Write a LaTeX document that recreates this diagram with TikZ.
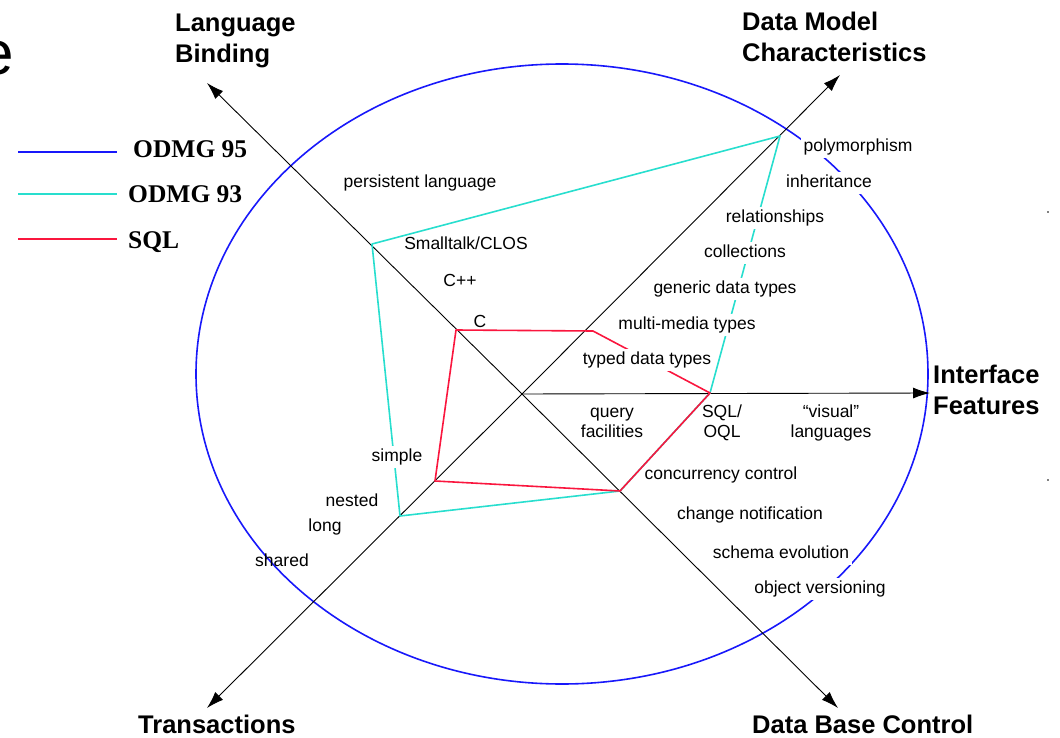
\documentclass[tikz,border=0pt]{standalone}
\usepackage{fontspec}
\setmainfont{Liberation Sans}
\newfontfamily\legendfont{Liberation Serif}
\usetikzlibrary{arrows.meta}

\definecolor{odmgblue}{RGB}{24,24,250}
\definecolor{odmgcyan}{RGB}{40,222,206}
\definecolor{sqlred}{RGB}{250,22,62}

\begin{document}
\begin{tikzpicture}[x=1pt,y=-1pt,
  axis/.style={draw=black, line width=0.9pt, -{Latex[length=17pt,width=11pt]}},
  axislabel/.style={font=\fontsize{25.5}{31}\selectfont\bfseries, inner sep=0pt, align=left},
  item/.style={font=\fontsize{17.5}{20}\selectfont, inner sep=3pt, text height=12.8pt, text depth=3.7pt},
  cover/.style={item, fill=white},
  stack/.style={font=\fontsize{17.5}{20}\selectfont, inner sep=2pt, align=center},
  legendtext/.style={font=\legendfont\bfseries\fontsize{25.5}{30}\selectfont, inner sep=0pt, anchor=base west},
  odmgnf/.style={draw=odmgblue, line width=1.6pt},
  odmgnt/.style={draw=odmgcyan, line width=1.6pt, line join=round},
  sqlline/.style={draw=sqlred, line width=1.6pt, line join=round},
]
\useasboundingbox (0,0) rectangle (1060,738);

% remnant of a large heading letter at the left border
\node[font=\fontsize{62}{62}\selectfont, inner sep=0pt, anchor=base east] (head) at (14.5,75) {e};
\fill (1048,212) circle (0.9pt);
\fill (1048,480) circle (0.9pt);

% ODMG 95 scope
\draw[odmgnf] (562,374) ellipse [x radius=366, y radius=310];

% axes
\coordinate (o) at (522,394);
\coordinate (tLB) at (207,83);
\coordinate (tDM) at (840,75);
\coordinate (tIF) at (930,393);
\coordinate (tDB) at (838,708);
\coordinate (tTR) at (207,708);
\draw[axis] (o) -- (tLB);
\draw[axis] (o) -- (tDM);
\draw[axis] (o) -- (tIF);
\draw[axis] (o) -- (tDB);
\draw[axis] (o) -- (tTR);

% ODMG 93 profile
\coordinate (c1) at (372,244);
\coordinate (c2) at (780,136);
\coordinate (c3) at (710,393);
\coordinate (c4) at (620,491);
\coordinate (c5) at (400,516);
\draw[odmgnt] (c1) -- (c2) -- (c3) -- (c4) -- (c5) -- cycle;

% SQL profile
\coordinate (r1) at (456,330);
\coordinate (r2) at (593,331);
\coordinate (r5) at (435,481);
\draw[sqlline] (r1) -- (r2) -- (c3) -- (c4) -- (r5) -- cycle;

% axis titles
\node[axislabel, anchor=north west] (lLB) at (175,14) {Language\\Binding};
\node[axislabel, anchor=north west] (lDM) at (742,12) {Data Model\\Characteristics};
\node[axislabel, anchor=north west] (lIF) at (933,364.5) {Interface\\Features};
\node[axislabel, anchor=base west] (lDB) at (752,733.5) {Data Base Control};
\node[axislabel, anchor=base west] (lTR) at (138,733.5) {Transactions};

% language binding values
\node[item] (pl) at (420,183) {persistent language};
\node[item] (st) at (466,245) {Smalltalk/CLOS};
\node[item] (cpp) at (460,282) {C++};
\node[item] (cc) at (480,323) {C};

% data model values
\node[cover] (poly) at (858,147) {polymorphism};
\node[cover] (inh) at (829,183) {inheritance};
\node[cover] (rel) at (775,218) {relationships};
\node[cover] (col) at (745,253) {collections};
\node[cover] (gen) at (725,289) {generic data types};
\node[cover] (mm) at (687,325) {multi-media types};
\node[cover] (typ) at (647,360) {typed data types};

% interface values
\node[stack] (qf) at (612,423) {query\\facilities};
\node[stack] (sq) at (722,423) {SQL/\\OQL};
\node[stack] (vis) at (831,423) {``visual''\\languages};

% data base control values
\node[item] (cc2) at (721,475) {concurrency control};
\node[item] (cn) at (750,515) {change notification};
\node[cover] (se) at (781,554) {schema evolution};
\node[cover] (ov) at (820,589) {object versioning};

% transaction values
\node[cover] (sim) at (397,457) {simple};
\node[item] (nst) at (352,502) {nested};
\node[item] (lng) at (325,527) {long};
\node[item] (shr) at (282,562) {shared};

% legend
\coordinate (k1a) at (18,152); \coordinate (k1b) at (117,152);
\coordinate (k2a) at (18,194); \coordinate (k2b) at (117,194);
\coordinate (k3a) at (18,239); \coordinate (k3b) at (117,239);
\draw[odmgnf] (k1a) -- (k1b);
\draw[odmgnt] (k2a) -- (k2b);
\draw[sqlline] (k3a) -- (k3b);
\node[legendtext] (g1) at (133,158) {ODMG 95};
\node[legendtext] (g2) at (128,203) {ODMG 93};
\node[legendtext] (g3) at (128,248) {SQL};
\end{tikzpicture}
\end{document}
